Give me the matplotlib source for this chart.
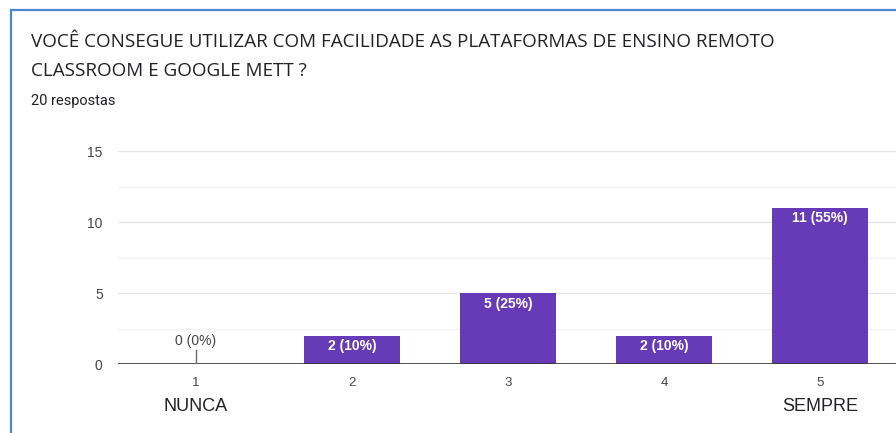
import matplotlib
matplotlib.use("Agg")
import matplotlib.pyplot as plt
from matplotlib.lines import Line2D

categories = ["1", "2", "3", "4", "5"]
counts = [0, 2, 5, 2, 11]
percents = ["0%", "10%", "25%", "10%", "55%"]
extremes = {"1": "NUNCA", "5": "SEMPRE"}
title_lines = ["VOCÊ CONSEGUE UTILIZAR COM FACILIDADE AS PLATAFORMAS DE ENSINO REMOTO",
               "CLASSROOM E GOOGLE METT ?"]
subtitle = "20 respostas"
yticks = [0, 5, 10, 15]

W, H = 896, 433
fig = plt.figure(figsize=(W / 100, H / 100), dpi=100)

# card border (left & top)
fig.add_artist(Line2D([11 / W, 11 / W], [0, 1 - 10 / H], color="#4f86d0", lw=1.6))
fig.add_artist(Line2D([11 / W, 1], [1 - 10 / H, 1 - 10 / H], color="#4f86d0", lw=1.6))

fig.text(31 / W, 1 - 47 / H, title_lines[0], fontsize=13.6, family="Open Sans",
         color="#202124", va="baseline")
fig.text(31 / W, 1 - 76 / H, title_lines[1], fontsize=13.6, family="Open Sans",
         color="#202124", va="baseline")
fig.text(31 / W, 1 - 105 / H, subtitle, fontsize=10.5, family="Roboto",
         color="#202124", va="baseline")

ax_left, ax_right = 118, 898
ax_top, ax_bottom = 151, 364
ax = fig.add_axes([ax_left / W, 1 - ax_bottom / H, (ax_right - ax_left) / W,
                   (ax_bottom - ax_top) / H])
x = list(range(1, len(categories) + 1))
ax.set_xlim(0.5, len(categories) + 0.5)
ax.set_ylim(0, 15)

for v in [2.5, 7.5, 12.5]:
    ax.axhline(v, color="#f3f3f3", lw=1, zorder=0)
for v in [5, 10, 15]:
    ax.axhline(v, color="#e6e6e6", lw=1, zorder=0)

ax.bar(x, counts, width=0.62, color="#673ab7", zorder=2)
ax.axhline(0, color="#333333", lw=1.2, zorder=3)

for xi, c, p in zip(x, counts, percents):
    lab = f"{c} ({p})"
    if c == 0:
        ax.plot([xi, xi], [0, 1.0], color="#666666", lw=1, zorder=3)
        ax.text(xi, 1.1, lab, ha="center", va="bottom", fontsize=10,
                family="Liberation Sans", color="#444444")
    else:
        ax.text(xi, c - 0.25, lab, ha="center", va="top", fontsize=10,
                family="Liberation Sans", color="white", fontweight="bold")

ax.set_xticks(x)
ax.set_xticklabels(categories, fontsize=9.5, family="Liberation Sans", color="#444444")
ax.set_yticks(yticks)
ax.set_yticklabels([str(t) for t in yticks], fontsize=10, family="Liberation Sans",
                   color="#444444")
ax.tick_params(axis="both", length=0)
ax.tick_params(axis="x", pad=9)
ax.tick_params(axis="y", pad=11)
for s in ax.spines.values():
    s.set_visible(False)
ax.patch.set_alpha(0)

for xi, cat in zip(x, categories):
    if cat in extremes:
        ax.annotate(extremes[cat], xy=(xi, 0), xycoords="data",
                    xytext=(0, -34), textcoords="offset points", ha="center",
                    va="baseline", fontsize=13, family="Liberation Sans",
                    color="#202124", annotation_clip=False)

fig.savefig("out.png", dpi=100, facecolor="white")
